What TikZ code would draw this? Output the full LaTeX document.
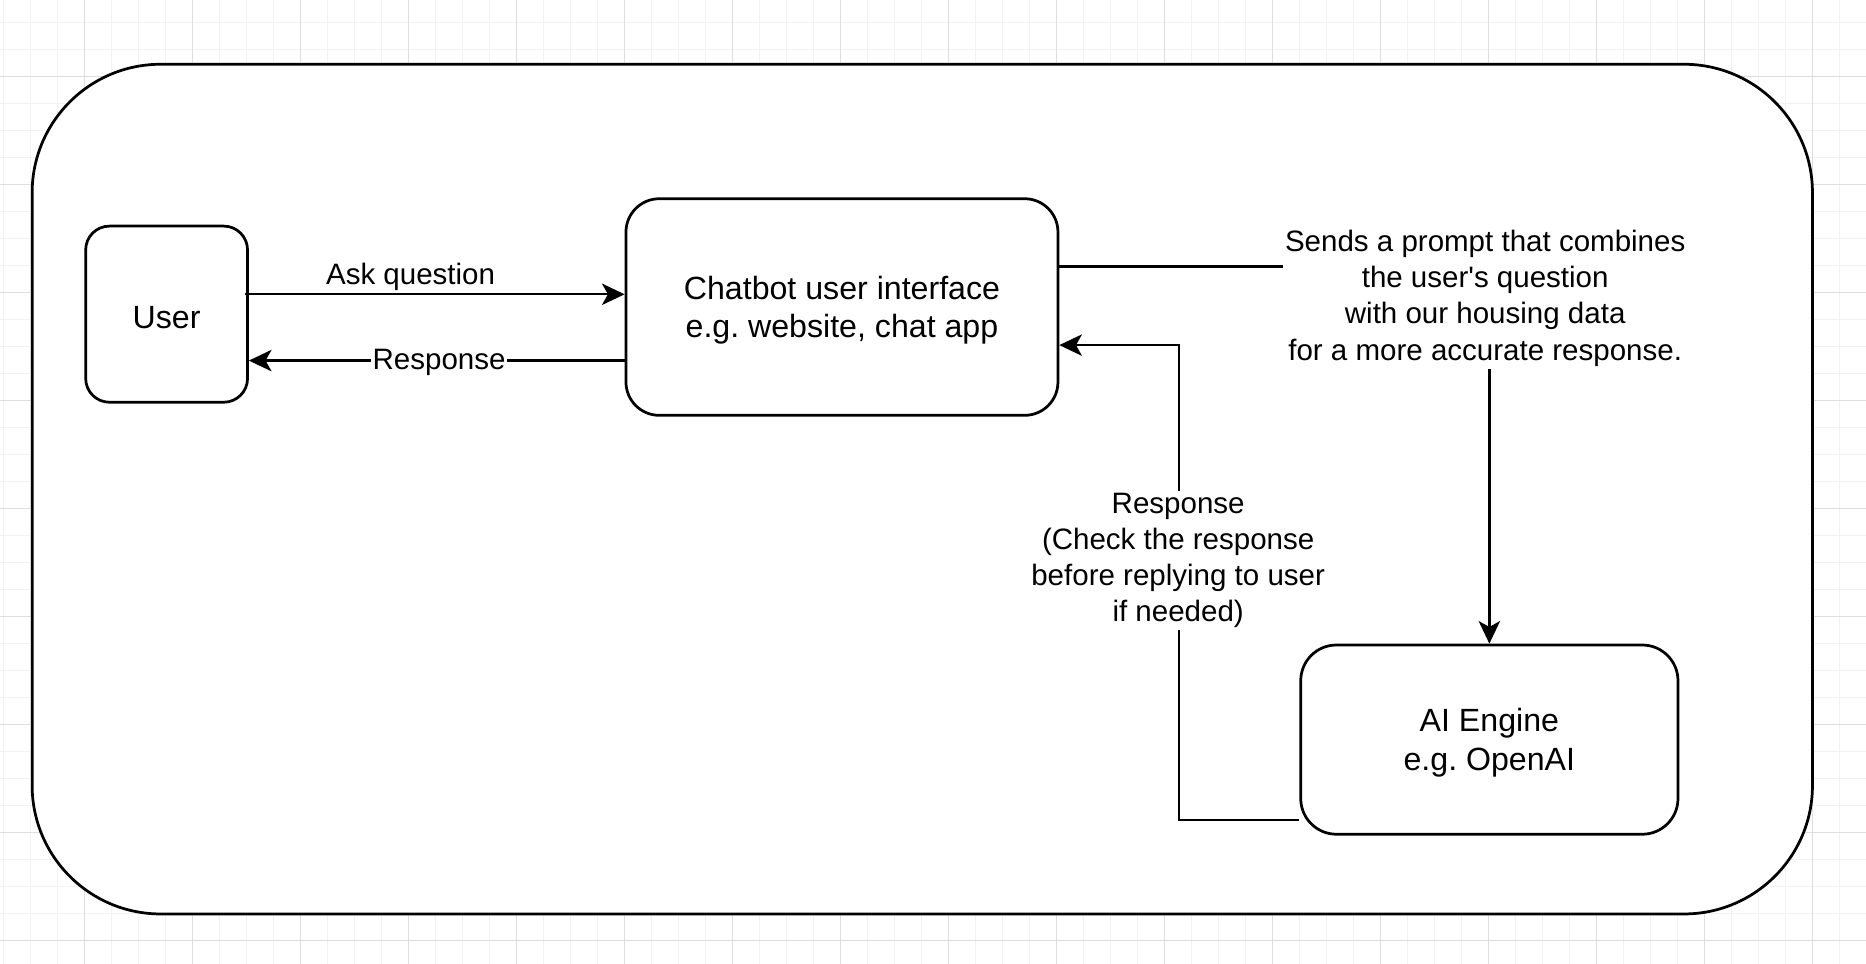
\documentclass[tikz,border=0pt]{standalone}
\usepackage{fontspec}
\setmainfont{Liberation Sans}
\newfontfamily\plainfont{Liberation Sans}
\usetikzlibrary{arrows.meta}
\definecolor{minorgrid}{RGB}{242,242,242}
\definecolor{majorgrid}{RGB}{222,222,222}
\tikzset{
  box/.style={draw=black, line width=2.3pt, fill=white, align=center,
              font=\fontsize{27}{32.3}\selectfont\frenchspacing, inner sep=0pt},
  lbl/.style={font=\fontsize{24.8}{30.4}\selectfont\frenchspacing, align=center, inner sep=2pt},
  conn/.style={draw=black, line width=1.9pt, -{Stealth[length=19pt,width=18pt,inset=5pt]}},
  mgrid/.style={draw=minorgrid, line width=1pt},
  Mgrid/.style={draw=majorgrid, line width=1pt}
}
\newcommand\lowered[1]{\raisebox{-3pt}[\height][\depth]{#1}}
\begin{document}
\begin{tikzpicture}[x=1pt,y=-1pt]
\useasboundingbox (0,0) rectangle (1568,810);
\fill[white] (0,0) rectangle (1568,810);
% background grid
\foreach \i in {0,...,70} { \draw[mgrid] ({3.25+\i*22.685},0) -- ({3.25+\i*22.685},810); }
\foreach \i in {0,...,36} { \draw[mgrid] (0,{19.03+\i*22.685}) -- (1568,{19.03+\i*22.685}); }
\foreach \i in {0,...,18} { \draw[Mgrid] ({71.3+(\i-1)*90.74},0) -- ({71.3+(\i-1)*90.74},810); }
\foreach \i in {0,...,9} { \draw[Mgrid] (0,{64.4+(\i-1)*90.74}) -- (1568,{64.4+(\i-1)*90.74}); }
% outer frame
\node[draw=black, line width=2.3pt, fill=white, rounded corners=108pt,
      minimum width=1496pt, minimum height=714pt, inner sep=0pt] (frame) at (775,411) {};
% nodes
\node[box, rounded corners=20pt, minimum width=136pt, minimum height=148pt] (user) at (140,264) {\lowered{User}};
\node[box, rounded corners=28pt, minimum width=363pt, minimum height=182pt] (chat) at (707.5,258) {\lowered{\begin{tabular}{@{}c@{}}Chatbot user interface\\e.g. website, chat app\end{tabular}}};
\node[box, rounded corners=30pt, minimum width=317pt, minimum height=159pt] (ai) at (1251.5,621.5) {\lowered{\begin{tabular}{@{}c@{}}AI Engine\\e.g. OpenAI\end{tabular}}};
% user <-> chatbot
\draw[conn] ([xshift=-3pt]user.east |- 0,247.3) -- (chat.west |- 0,247.3);
\node[lbl] (askq) at (345,233) {Ask question};
\draw[conn] (chat.west |- 0,303) -- (user.east |- 0,303);
\node[lbl, fill=white, inner sep=1pt] (resp1) at (369,304.5) {Response};
% chatbot -> AI engine
\draw[conn] (chat.east |- 0,224) -| (ai.north);
\node[lbl, fill=white] (prompt) at (1248,250.5) {Sends a prompt that combines\\the user{\plainfont'}s question\\with our housing data\\for a more accurate response.};
% AI engine -> chatbot
\coordinate (bend) at (991,290);
\draw[conn] (ai.west |- 0,689) -| (bend) -- (chat.east |- bend);
\node[lbl, fill=white] (resp2) at (990,471) {Response\\(Check the response\\before replying to user\\if needed)};
\end{tikzpicture}
\end{document}
